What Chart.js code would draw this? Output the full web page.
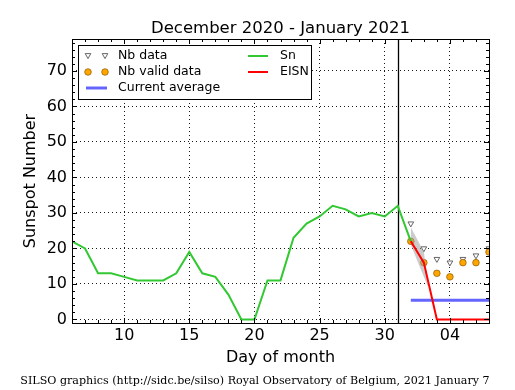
<!DOCTYPE html>
<html><head><meta charset="utf-8">
<script src="https://cdn.jsdelivr.net/npm/chart.js@4/dist/chart.umd.min.js"></script>
<style>html,body{margin:0;padding:0;background:#fff}#wrap{width:515px;height:390px}</style>
</head><body><div id="wrap"><canvas id="c" width="515" height="390"></canvas></div>
<script>
const titleText = 'December 2020 - January 2021';
const footerText = 'SILSO graphics (http://sidc.be/silso) Royal Observatory of Belgium, 2021 January 7';
const snDays = [6,7,8,9,10,11,12,13,14,15,16,17,18,19,20,21,22,23,24,25,26,27,28,29,30,31,32];
const snValues = [22,20,13,13,12,11,11,11,13,19,13,12,7,0,0,11,11,23,27,29,32,31,29,30,29,32,22];
const fcDays = [32,33,34,35,36,37,38];
const nbData = [27,20,17,16,17,18,20];
const nbValid = [22,16,13,12,16,16,19];
const eisnValues = [22,16,0,0,0,0,0];
const avgDays = [32,38];
const avgValues = [5.4,5.4];
const bandDays = [32,33,33.35];
const bandUpper = [26,19,9];
const bandLower = [21,12,9];
const xTicks = [10,15,20,25,30,35];
const xTickLabels = ['10','15','20','25','30','04'];
const yTicks = [0,10,20,30,40,50,60,70];
const markerDay = 31;
const legendLeft = ['Nb data','Nb valid data','Current average'];
const legendRight = ['Sn','EISN'];

const GREEN = 'rgb(50,200,50)', RED = '#ff0000', BLUE = 'rgb(100,100,255)', ORANGE = '#ffa500';
const pts = (xs, ys) => xs.map((x,i)=>({x, y: ys[i]}));
const FONT = 'DejaVu Sans';

const deco = {
  id: 'deco',
  beforeDatasetsDraw(chart) {
    const {ctx, chartArea: a, scales: {x}} = chart;
    const px = Math.round(x.getPixelForValue(markerDay)) + 0.5;
    ctx.save();
    ctx.strokeStyle = '#000'; ctx.lineWidth = 1.3;
    ctx.beginPath(); ctx.moveTo(px, a.top); ctx.lineTo(px, a.bottom); ctx.stroke();
    ctx.restore();
  },
  afterDraw(chart) {
    const {ctx, chartArea: a, scales: {x, y}} = chart;
    ctx.save();
    ctx.strokeStyle = '#000'; ctx.lineWidth = 1;
    ctx.strokeRect(Math.round(a.left)+0.5, Math.round(a.top)+0.5, Math.round(a.right-a.left), Math.round(a.bottom-a.top));
    ctx.beginPath();
    for (let d = Math.ceil(x.min); d <= x.max; d++) {
      const len = xTicks.includes(d) ? 5 : 3;
      const p = Math.round(x.getPixelForValue(d)) + 0.5;
      ctx.moveTo(p, a.bottom); ctx.lineTo(p, a.bottom - len);
      ctx.moveTo(p, a.top); ctx.lineTo(p, a.top + len);
    }
    for (let v = 0; v <= y.max; v += 2) {
      const len = yTicks.includes(v) ? 5 : 3;
      const p = Math.round(y.getPixelForValue(v)) + 0.5;
      ctx.moveTo(a.left, p); ctx.lineTo(a.left + len, p);
      ctx.moveTo(a.right, p); ctx.lineTo(a.right - len, p);
    }
    ctx.stroke();
    const L = 78.5, T = 45.5, W = 233, H = 54;
    ctx.fillStyle = '#fff'; ctx.fillRect(L, T, W, H);
    ctx.strokeStyle = '#000'; ctx.lineWidth = 1; ctx.strokeRect(L, T, W, H);
    const rows = [56, 72, 87.5];
    ctx.font = '12.5px "' + FONT + '"'; ctx.fillStyle = '#000'; ctx.textBaseline = 'middle'; ctx.textAlign = 'left';
    legendLeft.forEach((t,i)=>ctx.fillText(t, 118, rows[i]));
    legendRight.forEach((t,i)=>ctx.fillText(t, 280, rows[i]));
    [88,105].forEach(cx=>{
      ctx.beginPath(); ctx.moveTo(cx-2.8, rows[0]-2.4); ctx.lineTo(cx+2.8, rows[0]-2.4); ctx.lineTo(cx, rows[0]+2.6); ctx.closePath();
      ctx.fillStyle = '#fff'; ctx.fill(); ctx.strokeStyle = '#555'; ctx.lineWidth = 0.9; ctx.stroke();
      ctx.beginPath(); ctx.arc(cx, rows[1], 3.3, 0, Math.PI*2);
      ctx.fillStyle = ORANGE; ctx.fill(); ctx.strokeStyle = '#8a5a00'; ctx.lineWidth = 0.7; ctx.stroke();
    });
    ctx.lineWidth = 3; ctx.strokeStyle = BLUE;
    ctx.beginPath(); ctx.moveTo(86, rows[2]+0.5); ctx.lineTo(107, rows[2]+0.5); ctx.stroke();
    ctx.lineWidth = 2; ctx.strokeStyle = GREEN;
    ctx.beginPath(); ctx.moveTo(248, rows[0]); ctx.lineTo(268, rows[0]); ctx.stroke();
    ctx.strokeStyle = RED;
    ctx.beginPath(); ctx.moveTo(248, rows[1]); ctx.lineTo(268, rows[1]); ctx.stroke();
    ctx.fillStyle = '#000'; ctx.textAlign = 'center'; ctx.textBaseline = 'alphabetic';
    ctx.font = '16.5px "' + FONT + '"';
    ctx.fillText(titleText, (a.left + a.right)/2, 33);
    ctx.font = '12px "DejaVu Serif"';
    const w = ctx.measureText(footerText).width;
    const fs = 12 * 470 / w;
    ctx.font = fs.toFixed(2) + 'px "DejaVu Serif"';
    ctx.fillText(footerText, 255, 384);
    ctx.restore();
  }
};

new Chart(document.getElementById('c'), {
  type: 'line',
  data: {
    datasets: [
      {label: 'Nb data', data: pts(fcDays, nbData), showLine: false, pointStyle: 'triangle', rotation: 180,
       pointRadius: 3.3, pointBackgroundColor: '#fff', pointBorderColor: '#555', pointBorderWidth: 0.9, order: 6},
      {label: 'Nb valid data', data: pts(fcDays, nbValid), showLine: false, pointStyle: 'circle',
       pointRadius: 3.3, pointBackgroundColor: ORANGE, pointBorderColor: '#8a5a00', pointBorderWidth: 0.7, order: 5},
      {label: 'band upper', data: pts(bandDays, bandUpper), borderWidth: 0, pointRadius: 0,
       backgroundColor: 'rgba(160,160,160,0.55)', fill: '+1', order: 4},
      {label: 'band lower', data: pts(bandDays, bandLower), borderWidth: 0, pointRadius: 0, fill: false, order: 4},
      {label: 'Sn', data: pts(snDays, snValues), borderColor: GREEN, borderWidth: 2, pointRadius: 0, fill: false, order: 3},
      {label: 'Current average', data: pts(avgDays, avgValues), borderColor: BLUE, borderWidth: 3, pointRadius: 0, fill: false, order: 2},
      {label: 'EISN', data: pts(fcDays, eisnValues), borderColor: RED, borderWidth: 2, pointRadius: 0, fill: false, order: 1}
    ]
  },
  options: {
    responsive: false, animation: false,
    layout: {padding: {top: 39, right: 26, bottom: 22, left: 0}},
    plugins: {legend: {display: false}, tooltip: {enabled: false}, title: {display: false}},
    scales: {
      x: {type: 'linear', min: 6, max: 38,
        afterBuildTicks: s => { s.ticks = xTicks.map(v=>({value: v})); },
        afterFit: s => { s.height = 45; },
        ticks: {color: '#000', font: {family: FONT, size: 16}, padding: 3, maxRotation: 0,
          callback: v => xTickLabels[xTicks.indexOf(v)] ?? ''},
        grid: {color: 'rgba(0,0,0,0.9)', lineWidth: 1, drawTicks: false},
        border: {display: false, dash: [1,3]},
        title: {display: true, text: 'Day of month', color: '#000', font: {family: FONT, size: 16}, padding: {top: 0, bottom: 0.4}}
      },
      y: {type: 'linear', min: -1, max: 79,
        afterBuildTicks: s => { s.ticks = yTicks.map(v=>({value: v})); },
        afterFit: s => { s.width = 72; },
        ticks: {color: '#000', font: {family: FONT, size: 16}, padding: 5},
        grid: {color: 'rgba(0,0,0,0.9)', lineWidth: 1, drawTicks: false},
        border: {display: false, dash: [1,3]},
        title: {display: true, text: 'Sunspot Number', color: '#000', font: {family: FONT, size: 16}, padding: {top: 21.4, bottom: 0}}
      }
    }
  },
  plugins: [deco]
});
</script></body></html>
